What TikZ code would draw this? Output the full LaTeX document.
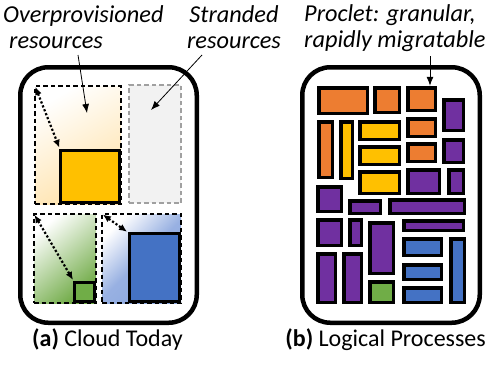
\documentclass[tikz,border=0pt]{standalone}
\usepackage{fontspec}
\setmainfont{Carlito}
\usetikzlibrary{arrows.meta}

\definecolor{cOrange}{HTML}{ED7D31}
\definecolor{cYellow}{HTML}{FFC000}
\definecolor{cPurple}{HTML}{7030A0}
\definecolor{cBlue}{HTML}{4472C4}
\definecolor{cGreen}{HTML}{70AD47}
\definecolor{cPeach}{HTML}{FFE2AA}
\definecolor{cLightGreen}{HTML}{6FAA45}
\definecolor{cLightBlue}{HTML}{8AA6DE}
\definecolor{cStrand}{HTML}{F2F2F2}
\definecolor{cStrandLine}{HTML}{A0A0A0}

% solid block given by its outer corners (x1,y1)-(x2,y2)
\newcommand\pcell[6]{%
  \node[cell, fill=#6, minimum width={#4-#2-3.5}, minimum height={#5-#3-3.5}]
    (#1) at ({(#2+#4)/2},{(#3+#5)/2}) {};}
% dashed allotment given by its corners
\newcommand\allot[6]{%
  \node[allotbox, #6, minimum width={#4-#2}, minimum height={#5-#3}]
    (#1) at ({(#2+#4)/2},{(#3+#5)/2}) {};}

\begin{document}
\begin{tikzpicture}[x=1pt,y=-1pt,
  panel/.style={draw=black, line width=4.5pt, rounded corners=28pt,
    inner sep=0pt, outer sep=0pt},
  cell/.style={draw=black, line width=3.5pt, inner sep=0pt, outer sep=0pt},
  sqcell/.style={draw=black, line width=3pt, inner sep=0pt, outer sep=0pt},
  allotbox/.style={draw=black, line width=1.4pt, dash pattern=on 4.5pt off 3pt,
    inner sep=0pt, outer sep=0pt},
  label/.style={font=\fontsize{24.3}{26}\selectfont\itshape, inner sep=0pt},
  caption/.style={font=\fontsize{24}{26}\selectfont, inner sep=0pt},
  pointer/.style={-{Latex[length=9pt,width=7pt]}, line width=0.8pt},
  gap/.style={{Latex[length=8pt,width=7pt]}-{Latex[length=8pt,width=7pt]},
    line width=2.2pt, dotted},
]
\useasboundingbox (0,0) rectangle (487,364);

% ---------- (a) Cloud today ----------
\node[panel, minimum width=176.5pt, minimum height=255.5pt] (panelA) at (108.5,195) {};

\allot{ovOrange}{35}{86}{121}{204}{shading=axis, top color=white, bottom color=cPeach, shading angle=30}
\node[allotbox, draw=cStrandLine, fill=cStrand, minimum width=52pt, minimum height=118pt]
  (stranded) at (155,144) {};
\allot{ovGreen}{34}{214}{96}{303}{shading=axis, top color=white, bottom color=cLightGreen, shading angle=40}
\allot{ovBlue}{102}{214}{181}{303}{shading=axis, top color=white, bottom color=cLightBlue, middle color=cLightBlue!88!white, shading angle=45}

\node[sqcell, fill=cYellow, minimum width=59pt, minimum height=52pt] (useYellow) at (90,176.5) {};
\node[sqcell, fill=cGreen, minimum width=20pt, minimum height=19pt] (useGreen) at (84.5,292) {};
\node[sqcell, fill=cBlue, minimum width=50pt, minimum height=68pt] (useBlue) at (154.5,267.5) {};

\draw[gap, shorten >=3pt, shorten <=1pt] (ovOrange.north west) -- (useYellow.north west);
\draw[gap, shorten >=3pt, shorten <=1pt] (ovGreen.north west) -- (useGreen.north west);
\draw[gap, shorten >=3pt, shorten <=1pt] (ovBlue.north west) -- (useBlue.north west);

% ---------- (b) Logical processes ----------
\node[panel, minimum width=177.5pt, minimum height=255.5pt] (panelB) at (391,195) {};

\pcell{pA}{317}{86}{369}{115}{cOrange}
\pcell{pB}{373}{86}{401}{114}{cOrange}
\pcell{pC}{406}{86}{437}{112}{cOrange}
\pcell{pD}{442}{98}{465}{132}{cPurple}
\pcell{pE}{317}{120}{334}{179}{cOrange}
\pcell{pF}{339}{120}{354}{180}{cYellow}
\pcell{pG}{358}{120}{401}{141}{cYellow}
\pcell{pH}{406}{117}{437}{138}{cOrange}
\pcell{pI}{358}{145}{401}{166}{cYellow}
\pcell{pJ}{406}{142}{437}{163}{cOrange}
\pcell{pK}{442}{138}{465}{164}{cPurple}
\pcell{pL}{358}{170}{401}{195}{cYellow}
\pcell{pM}{406}{168}{441}{195}{cPurple}
\pcell{pN}{447}{168}{465}{195}{cPurple}
\pcell{pO}{316}{185}{343}{213}{cPurple}
\pcell{pP}{348}{199}{382}{215}{cPurple}
\pcell{pQ}{388}{198}{466}{215}{cPurple}
\pcell{pR}{316}{218}{343}{247}{cPurple}
\pcell{pS}{348}{218}{363}{247}{cPurple}
\pcell{pT}{368}{221}{395}{275}{cPurple}
\pcell{pU}{402}{219}{465}{232}{cPurple}
\pcell{pV}{402}{237}{443}{257}{cBlue}
\pcell{pW}{449}{237}{466}{304}{cBlue}
\pcell{pX}{316}{252}{337}{304}{cPurple}
\pcell{pY}{342}{252}{363}{304}{cPurple}
\pcell{pZ}{368}{280}{395}{304}{cGreen}
\pcell{pAA}{402}{263}{443}{281}{cBlue}
\pcell{pAB}{402}{286}{443}{304}{cBlue}

% ---------- labels (anchored at the baseline of their last line) ----------
\node[label, anchor=base west, align=left] (lblOver) at (3,48)
  {Overprovisioned\\\hspace*{6pt}resources};
\node[label, anchor=base, align=center] (lblStrand) at (234,48)
  {Stranded\\resources};
\node[label, anchor=base west, align=left] (lblProclet) at (304,47)
  {Proclet: granular,\\rapidly migratable};

\coordinate (fromOver) at (78,55);
\coordinate (toOver) at (87,113);
\coordinate (fromStrand) at (202,55);
\coordinate (toStrand) at (151,110);
\coordinate (fromProclet) at (430,56);
\draw[pointer] (fromOver) -- (toOver);
\draw[pointer] (fromStrand) -- (toStrand);
\draw[pointer, shorten >=2pt] (fromProclet) -- (pC.north -| fromProclet);

\node[caption, anchor=base west] (capA) at (32,346) {\textbf{(a)} Cloud Today};
\node[caption, anchor=base east] (capB) at (486,346) {\textbf{(b)} Logical Processes};
\end{tikzpicture}
\end{document}
